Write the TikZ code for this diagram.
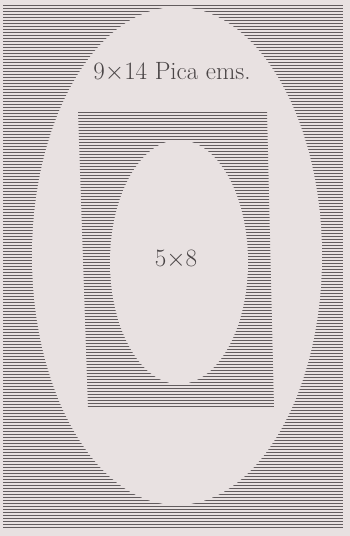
\documentclass[tikz,border=0pt]{standalone}
\definecolor{paper}{HTML}{E8E1E1}
\definecolor{ink}{HTML}{625C5E}
\definecolor{printink}{HTML}{4A4546}
\tikzset{
  hatch/.style={ink,line width=1.4pt},
  label/.style={printink,font=\fontsize{25}{30}\selectfont},
}
\begin{document}
\begin{tikzpicture}[x=1pt,y=-1pt]
    % page, one pixel of the scan per point
    \fill[paper] (0,0) rectangle (350,536);
    \useasboundingbox (0,0) rectangle (350,536);
    \foreach \i in {0,...,174}
      {\draw[hatch] (3,{5.5+3*\i}) -- (343,{5.5+3*\i});}
    \fill[paper] (177,256) ellipse [x radius=145, y radius=249];
    % inner plate, slightly skewed as printed
    \begin{scope}
      \clip (78,111) -- (267,111) -- (274,408) -- (88,408) -- cycle;
      \foreach \i in {0,...,99}
        {\draw[hatch] (70,{112.5+3*\i}) -- (280,{112.5+3*\i});}
    \end{scope}
    \fill[paper] (179,262) ellipse [x radius=69, y radius=122];
    \node[label] (outersize) at (172,72) {9$\times$14 Pica ems.};
    \node[label] (innersize) at (176,259) {5$\times$8};
  \end{tikzpicture}
\end{document}
